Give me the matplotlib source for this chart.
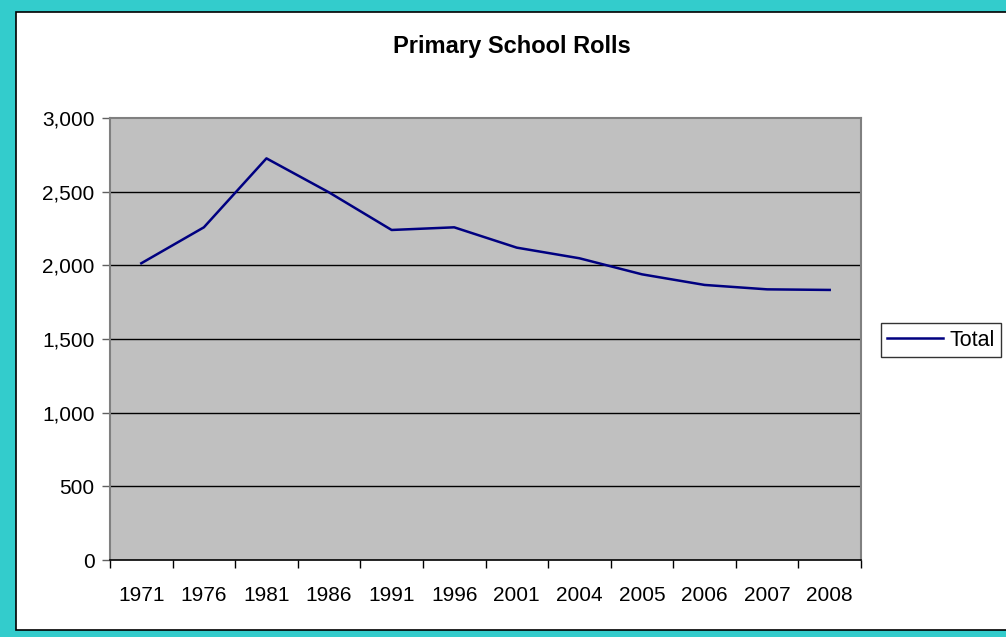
import matplotlib
matplotlib.use("Agg")
import matplotlib.pyplot as plt
from matplotlib.patches import Rectangle
import numpy as np

years = ["1971", "1976", "1981", "1986", "1991", "1996", "2001", "2004", "2005", "2006", "2007", "2008"]
total = [2014, 2258, 2726, 2495, 2240, 2258, 2120, 2048, 1939, 1867, 1837, 1833]
yticks = [0, 500, 1000, 1500, 2000, 2500, 3000]

W, H = 1006, 637
plt.rcParams['font.family'] = ['Liberation Sans', 'DejaVu Sans']
fig = plt.figure(figsize=(W / 100, H / 100), dpi=100)
fig.patch.set_facecolor('#33CCCC')

# white chart area with black border
bg = Rectangle((16 / W, (H - 630) / H), (W - 16 + 10) / W, (630 - 12) / H,
               transform=fig.transFigure, facecolor='white', edgecolor='black',
               linewidth=1.2, zorder=-10)
fig.patches.append(bg)

left, right, top, bottom = 110, 861, 118, 560
ax = fig.add_axes([left / W, (H - bottom) / H, (right - left) / W, (bottom - top) / H])
ax.set_zorder(1)
ax.set_facecolor('#C0C0C0')

x = np.arange(len(years))
ax.plot(x, total, color='#000080', linewidth=1.8, label='Total', zorder=3)

ax.set_xlim(-0.5, len(years) - 0.5)
ax.set_ylim(0, 3000)
ax.set_yticks(yticks)
ax.set_yticklabels([f"{v:,}" for v in yticks], fontsize=15)
ax.set_xticks(np.arange(-0.5, len(years), 1.0))
ax.set_xticklabels([])
ax.set_xticks(x, minor=True)
ax.set_xticklabels(years, minor=True, fontsize=15)
ax.tick_params(axis='x', which='minor', length=0, pad=19)
ax.tick_params(axis='x', which='major', length=6, width=1, color='black', direction='out')
ax.tick_params(axis='y', length=6, width=1, color='#606060', direction='out', pad=5)

for yv in yticks[1:-1]:
    ax.axhline(yv, color='black', linewidth=1, zorder=1)

for s in ['left', 'top', 'right']:
    ax.spines[s].set_color('#808080')
    ax.spines[s].set_linewidth(1.5)
ax.spines['bottom'].set_color('black')
ax.spines['bottom'].set_linewidth(1.2)

fig.text(512 / W, (H - 46) / H, "Primary School Rolls", ha='center', va='center',
         fontsize=17, fontweight='bold')

leg = fig.legend(loc='center', bbox_to_anchor=(941 / W, (H - 340) / H), fontsize=15.5,
                 frameon=True, fancybox=False, edgecolor='black', handlelength=2.6,
                 handletextpad=0.3, borderpad=0.3, borderaxespad=0)
leg.get_frame().set_linewidth(1)

fig.savefig("out.png", dpi=100, facecolor=fig.get_facecolor())
